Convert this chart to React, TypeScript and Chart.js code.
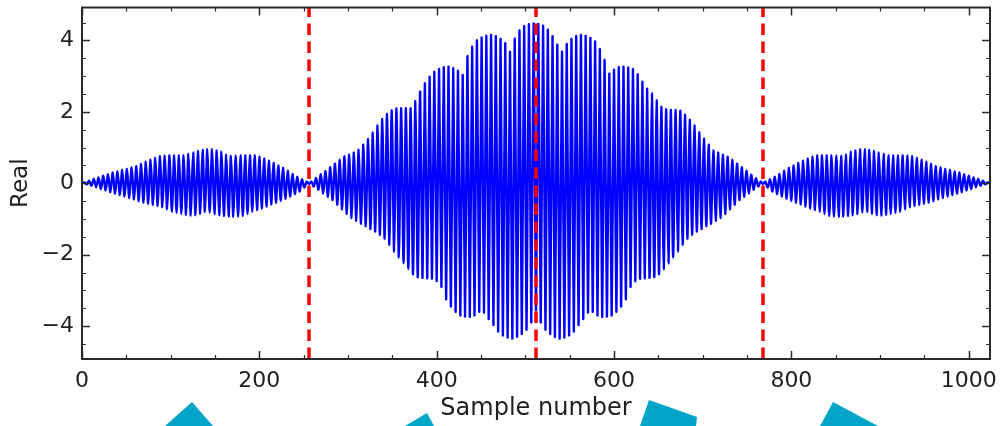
import React, { useEffect, useRef } from "react";
import { Chart, registerables } from "chart.js";

Chart.register(...registerables);

// Upper peak value of each oscillation (192 cycles over 1024 samples)
const upperPeaks = [
  0.02, 0.07, 0.12, 0.16, 0.21, 0.25, 0.30, 0.33, 0.37, 0.40,
  0.44, 0.48, 0.54, 0.60, 0.66, 0.71, 0.76, 0.77, 0.78, 0.78,
  0.78, 0.78, 0.82, 0.86, 0.90, 0.93, 0.95, 0.95, 0.92, 0.88,
  0.80, 0.77, 0.78, 0.78, 0.78, 0.78, 0.78, 0.74, 0.69, 0.63,
  0.57, 0.50, 0.43, 0.35, 0.26, 0.18, 0.11, 0.04,
  0.05, 0.15, 0.25, 0.34, 0.45, 0.55, 0.65, 0.75, 0.80, 0.86,
  0.94, 1.08, 1.24, 1.42, 1.62, 1.80, 1.94, 2.04, 2.09, 2.10,
  2.10, 2.10, 2.30, 2.56, 2.80, 2.98, 3.12, 3.20, 3.25, 3.26,
  3.22, 3.15, 3.03, 3.56, 3.82, 4.00, 4.08, 4.13, 4.15, 4.12,
  4.04, 3.92, 3.68, 4.05, 4.28, 4.40, 4.45, 4.47,
  4.46, 4.41, 4.30, 4.12, 3.88, 3.68, 3.90, 4.04, 4.12, 4.15,
  4.13, 4.07, 3.97, 3.75, 3.45, 3.07, 3.18, 3.25, 3.26, 3.24,
  3.20, 3.05, 2.84, 2.65, 2.52, 2.32, 2.14, 2.07, 2.05, 2.05,
  2.03, 1.92, 1.78, 1.62, 1.43, 1.25, 1.08, 0.92, 0.86, 0.80,
  0.74, 0.65, 0.55, 0.45, 0.35, 0.24, 0.14, 0.05,
  0.04, 0.11, 0.18, 0.26, 0.35, 0.43, 0.50, 0.57, 0.63, 0.69,
  0.74, 0.78, 0.78, 0.78, 0.78, 0.78, 0.77, 0.80, 0.88, 0.92,
  0.95, 0.95, 0.93, 0.90, 0.86, 0.82, 0.78, 0.78, 0.78, 0.78,
  0.77, 0.76, 0.71, 0.66, 0.60, 0.54, 0.48, 0.44, 0.40, 0.37,
  0.33, 0.30, 0.25, 0.21, 0.16, 0.12, 0.07, 0.02,
];

// Lower trough value at the start of each oscillation (193 values)
const lowerTroughs = [
  0, -0.03, -0.07, -0.11, -0.16, -0.20, -0.25, -0.29, -0.33, -0.37,
  -0.41, -0.45, -0.50, -0.54, -0.57, -0.60, -0.63, -0.67, -0.73, -0.80,
  -0.83, -0.86, -0.88, -0.90, -0.89, -0.85, -0.80, -0.82, -0.86, -0.89,
  -0.91, -0.93, -0.94, -0.94, -0.92, -0.86, -0.80, -0.75, -0.70, -0.65,
  -0.59, -0.54, -0.49, -0.43, -0.37, -0.30, -0.23, -0.12, -0.02,
  -0.09, -0.18, -0.28, -0.38, -0.47, -0.60, -0.73, -0.86, -0.97, -1.05,
  -1.13, -1.20, -1.28, -1.35, -1.44, -1.55, -1.72, -1.91, -2.08, -2.24,
  -2.40, -2.55, -2.63, -2.65, -2.66, -2.67, -2.74, -2.90, -3.25, -3.45,
  -3.60, -3.70, -3.73, -3.74, -3.70, -3.60, -3.62, -3.80, -3.97, -4.15,
  -4.26, -4.32, -4.35, -4.30, -4.22, -4.10, -3.90, -3.56,
  -3.90, -4.10, -4.22, -4.30, -4.35, -4.32, -4.26, -4.15,
  -3.97, -3.80, -3.62, -3.60, -3.70, -3.74, -3.73, -3.70, -3.60, -3.45,
  -3.25, -2.90, -2.74, -2.67, -2.66, -2.65, -2.63, -2.55, -2.40, -2.24,
  -2.08, -1.91, -1.72, -1.55, -1.44, -1.35, -1.28, -1.20, -1.13, -1.05,
  -0.97, -0.86, -0.73, -0.60, -0.47, -0.38, -0.28, -0.18, -0.09, -0.02,
  -0.12, -0.23, -0.30, -0.37, -0.43, -0.49, -0.54, -0.59, -0.65, -0.70,
  -0.75, -0.80, -0.86, -0.92, -0.94, -0.94, -0.93, -0.91, -0.89, -0.86,
  -0.82, -0.80, -0.85, -0.89, -0.90, -0.88, -0.86, -0.83, -0.80, -0.73,
  -0.67, -0.63, -0.60, -0.57, -0.54, -0.50, -0.45, -0.41, -0.37, -0.33,
  -0.29, -0.25, -0.20, -0.16, -0.11, -0.07, -0.03, 0,
];

const cycleLength = 1024 / 192; // samples per oscillation
const markerSamples = [256, 512, 768];

const xRange = [0, 1024];
const yRange = [-4.92, 4.92];
const xMajorTicks = [0, 200, 400, 600, 800, 1000];
const xMinorTicks = [50, 100, 150, 250, 300, 350, 450, 500, 550, 650, 700, 750, 850, 900, 950];
const yMajorTicks = [-4, -2, 0, 2, 4];
const yMinorTicks = [-4.5, -3.5, -3, -2.5, -1.5, -1, -0.5, 0.5, 1, 1.5, 2.5, 3, 3.5, 4.5];

const FONT = "'DejaVu Sans', 'Liberation Sans', sans-serif";
const TEXT = "#1f1f1f";

const framePlugin = {
  id: "frameTicks",
  afterDatasetsDraw(chart: any) {
    const { ctx, chartArea, scales } = chart;
    const { left, right, top, bottom } = chartArea;
    ctx.save();
    ctx.strokeStyle = "#2a2a2a";
    const drawX = (vals: number[], len: number, w: number) => {
      ctx.lineWidth = w;
      ctx.beginPath();
      vals.forEach((v) => {
        const px = Math.round(scales.x.getPixelForValue(v)) + 0.5;
        ctx.moveTo(px, bottom);
        ctx.lineTo(px, bottom - len);
        ctx.moveTo(px, top);
        ctx.lineTo(px, top + len);
      });
      ctx.stroke();
    };
    const drawY = (vals: number[], len: number, w: number) => {
      ctx.lineWidth = w;
      ctx.beginPath();
      vals.forEach((v) => {
        const py = Math.round(scales.y.getPixelForValue(v)) + 0.5;
        ctx.moveTo(left, py);
        ctx.lineTo(left + len, py);
        ctx.moveTo(right, py);
        ctx.lineTo(right - len, py);
      });
      ctx.stroke();
    };
    drawX(xMajorTicks, 8, 1.5);
    drawX(xMinorTicks, 4, 1.2);
    drawY(yMajorTicks, 8, 1.5);
    drawY(yMinorTicks, 4, 1.2);
    ctx.lineWidth = 2;
    ctx.strokeRect(left, top, right - left, bottom - top);
    ctx.restore();
  },
};

export default function App() {
  const canvasRef = useRef<HTMLCanvasElement | null>(null);

  useEffect(() => {
    if (!canvasRef.current) return;
    const signal: { x: number; y: number }[] = [];
    for (let k = 0; k < upperPeaks.length; k++) {
      signal.push({ x: k * cycleLength, y: lowerTroughs[k] });
      signal.push({ x: k * cycleLength + cycleLength / 2, y: upperPeaks[k] });
    }
    signal.push({ x: upperPeaks.length * cycleLength, y: lowerTroughs[upperPeaks.length] });

    const markerSets = markerSamples.map((s) => ({
      label: "marker " + s,
      data: [
        { x: s, y: yRange[0] },
        { x: s, y: yRange[1] },
      ],
      borderColor: "#ff0000",
      borderWidth: 3.5,
      borderDash: [11.5, 6.5],
      pointRadius: 0,
      order: 0,
    }));

    const chart = new Chart(canvasRef.current, {
      type: "line",
      data: {
        datasets: [
          ...markerSets,
          {
            label: "Real",
            data: signal,
            borderColor: "#0000ff",
            borderWidth: 2.4,
            borderJoinStyle: "round",
            borderCapStyle: "round",
            pointRadius: 0,
            tension: 0.25,
            order: 1,
          },
        ],
      },
      options: {
        animation: false,
        responsive: false,
        devicePixelRatio: 1,
        layout: { padding: { left: 0, right: 10, top: 7.5, bottom: 0 } },
        plugins: { legend: { display: false }, tooltip: { enabled: false } },
        events: [],
        scales: {
          x: {
            type: "linear",
            min: xRange[0],
            max: xRange[1],
            grid: { display: false, drawTicks: false },
            border: { display: false },
            afterBuildTicks: (s: any) => {
              s.ticks = xMajorTicks.map((v) => ({ value: v }));
            },
            afterFit: (s: any) => {
              s.height = 67;
              s.paddingLeft = 0;
              s.paddingRight = 0;
              s.paddingTop = 0;
              s.paddingBottom = 0;
            },
            ticks: {
              autoSkip: false,
              maxRotation: 0,
              padding: 9,
              color: TEXT,
              font: { family: FONT, size: 22 },
              callback: (v: any) => String(v),
            },
            title: {
              display: true,
              text: "Sample number",
              color: TEXT,
              font: { family: FONT, size: 24 },
              padding: { top: 0, bottom: 3 },
            },
          },
          y: {
            type: "linear",
            min: yRange[0],
            max: yRange[1],
            grid: { display: false, drawTicks: false },
            border: { display: false },
            afterBuildTicks: (s: any) => {
              s.ticks = yMajorTicks.map((v) => ({ value: v }));
            },
            afterFit: (s: any) => {
              s.width = 82;
              s.paddingLeft = 0;
              s.paddingRight = 0;
              s.paddingTop = 0;
              s.paddingBottom = 0;
            },
            ticks: {
              padding: 8,
              color: TEXT,
              font: { family: FONT, size: 22 },
              callback: (v: any) => (Number(v) < 0 ? "\u2212" + Math.abs(Number(v)) : String(v)),
            },
            title: {
              display: true,
              text: "Real",
              color: TEXT,
              font: { family: FONT, size: 23 },
              padding: { top: 7, bottom: 0 },
            },
          },
        },
      },
      plugins: [framePlugin],
    } as any);
    return () => chart.destroy();
  }, []);

  return (
    <div style={{ position: "fixed", left: 0, top: 0, width: 1000, height: 426, background: "#fff", overflow: "hidden" }}>
      <canvas ref={canvasRef} width={1000} height={426} style={{ display: "block" }} />
      <svg width={1000} height={426} style={{ position: "absolute", left: 0, top: 0, pointerEvents: "none" }}>
        <polygon points="192,402 165,426 213,426" fill="#00a5c8" />
        <polygon points="427,413 405,426 434,426" fill="#00a5c8" />
        <polygon points="649,400 697,417 696,426 640,426" fill="#00a5c8" />
        <polygon points="833,402 820,426 878,426" fill="#00a5c8" />
      </svg>
    </div>
  );
}
